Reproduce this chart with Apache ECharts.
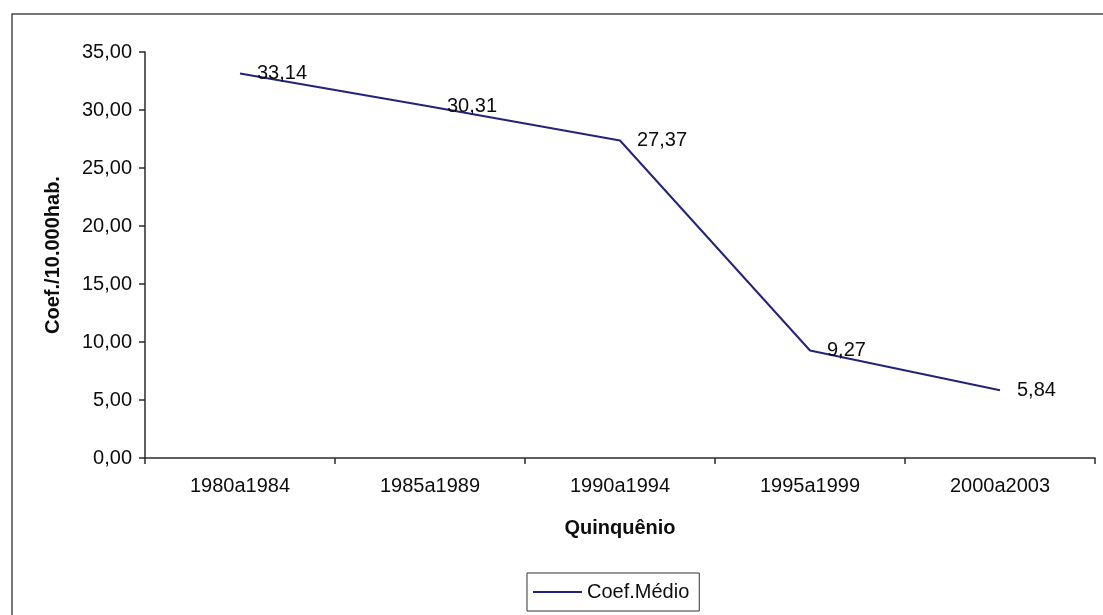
<!DOCTYPE html>
<html>
<head>
<meta charset="utf-8">
<script src="https://cdn.jsdelivr.net/npm/echarts@6/dist/echarts.min.js"></script>
<style>
  html, body { margin: 0; padding: 0; background: #ffffff; }
  #chart { width: 1103px; height: 615px; }
</style>
</head>
<body>
<div id="chart"></div>
<script>
// Quinquennial periods and the mean coefficient per 10,000 inhabitants
const categories = ['1980a1984', '1985a1989', '1990a1994', '1995a1999', '2000a2003'];
const coefMedio = [33.14, 30.31, 27.37, 9.27, 5.84];
const seriesName = 'Coef.Médio';
const yAxisName = 'Coef./10.000hab.';
const xAxisName = 'Quinquênio';

const fmtComma = v => Number(v).toFixed(2).replace('.', ',');
const FONT = '"Liberation Sans", Arial, sans-serif';
const INK = '#0d0d0d';
const AXIS = '#2b2b2b';
const LINE = '#23237a';

const chart = echarts.init(document.getElementById('chart'), null, { renderer: 'canvas' });

chart.setOption({
  backgroundColor: '#ffffff',
  animation: false,
  textStyle: { fontFamily: FONT, color: INK },
  graphic: [{
    type: 'rect',
    shape: { x: 12, y: 14, width: 1200, height: 700 },
    style: { fill: 'none', stroke: '#4a4a4a', lineWidth: 1.5 },
    silent: true
  }],
  grid: { left: 145, right: 8, top: 52, bottom: 157 },
  legend: {
    left: 527,
    top: 573,
    padding: [9, 10, 9, 6],
    borderColor: '#333333',
    borderWidth: 1,
    icon: 'rect',
    itemWidth: 49,
    itemHeight: 2,
    textStyle: { fontFamily: FONT, fontSize: 20, color: INK },
    data: [{ name: seriesName, itemStyle: { color: LINE } }]
  },
  xAxis: {
    type: 'category',
    data: categories,
    boundaryGap: true,
    name: xAxisName,
    nameLocation: 'middle',
    nameGap: 60,
    nameTextStyle: { fontFamily: FONT, fontSize: 20, fontWeight: 'bold', color: INK },
    axisLine: { lineStyle: { color: AXIS, width: 1.5 } },
    axisTick: { show: true, length: 6, alignWithLabel: false, lineStyle: { color: AXIS, width: 1.5 } },
    axisLabel: { margin: 18, fontFamily: FONT, fontSize: 20, color: INK },
    splitLine: { show: false }
  },
  yAxis: {
    type: 'value',
    min: 0,
    max: 35,
    interval: 5,
    name: yAxisName,
    nameLocation: 'middle',
    nameGap: 82,
    nameRotate: 90,
    nameTextStyle: { fontFamily: FONT, fontSize: 20, fontWeight: 'bold', color: INK },
    axisLine: { show: true, lineStyle: { color: AXIS, width: 1.5 } },
    axisTick: { show: true, length: 6, lineStyle: { color: AXIS, width: 1.5 } },
    axisLabel: { margin: 13, fontFamily: FONT, fontSize: 20, color: INK, formatter: fmtComma },
    splitLine: { show: false }
  },
  series: [{
    name: seriesName,
    type: 'line',
    data: coefMedio,
    symbol: 'circle',
    symbolSize: 0,
    showSymbol: true,
    itemStyle: { color: LINE },
    lineStyle: { color: LINE, width: 2 },
    label: {
      show: true,
      position: 'right',
      distance: 17,
      fontFamily: FONT,
      fontSize: 20,
      color: INK,
      formatter: p => fmtComma(p.value)
    },
    emphasis: { disabled: true }
  }]
});
</script>
</body>
</html>
